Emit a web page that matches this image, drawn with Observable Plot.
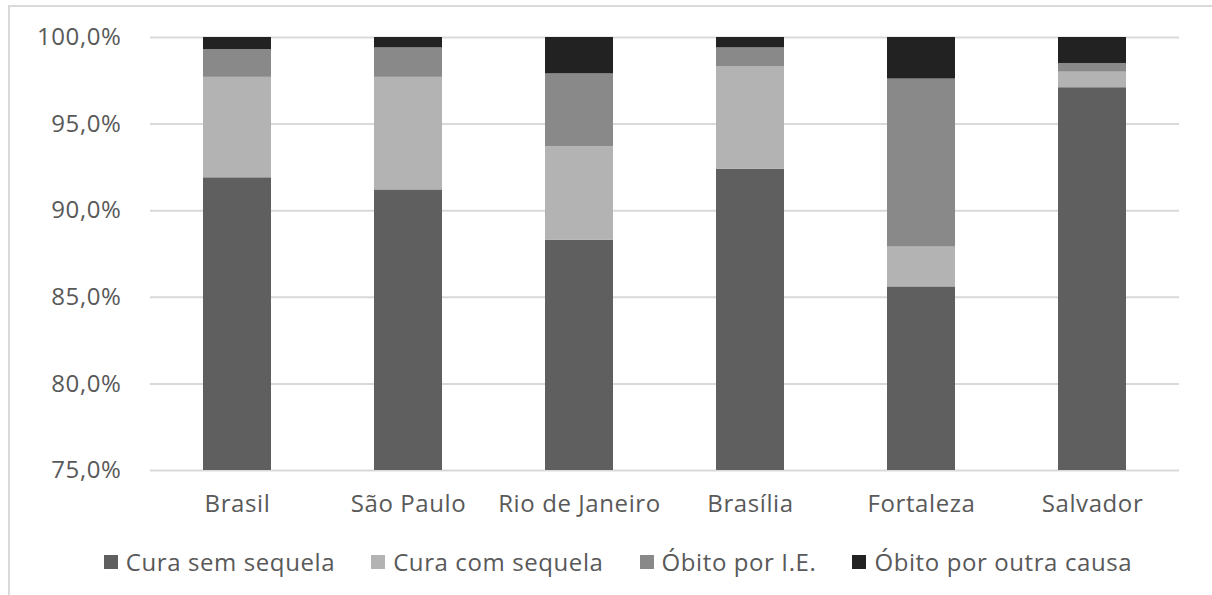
<!DOCTYPE html>
<html>
<head>
<meta charset="utf-8">
<script src="https://cdn.jsdelivr.net/npm/d3@7"></script>
<script src="https://cdn.jsdelivr.net/npm/@observablehq/plot@0.6"></script>
<style>
  html, body { margin: 0; padding: 0; background: #fff; width: 1212px; height: 595px; overflow: hidden; }
  #frame { position: absolute; left: 8px; top: 5px; width: 1220px; height: 620px; border-left: 2px solid #d9d9d9; border-top: 2px solid #d9d9d9; box-sizing: border-box; }
  #chart { position: absolute; left: 0; top: 0; }
  #legend { position: absolute; left: 8px; width: 1220px; top: 545px; display: flex; justify-content: center; gap: 36px;
            font-family: "Open Sans", sans-serif; font-size: 24px; color: #595959; letter-spacing: 0.6px; }
  #legend .item { display: flex; align-items: center; white-space: nowrap; }
  #legend .sw { width: 14px; height: 14px; margin-right: 8px; display: inline-block; }
</style>
</head>
<body>
<div id="frame"></div>
<div id="chart"></div>
<div id="legend"></div>
<script>
const cities = ["Brasil", "São Paulo", "Rio de Janeiro", "Brasília", "Fortaleza", "Salvador"];
const seriesNames = ["Cura sem sequela", "Cura com sequela", "Óbito por I.E.", "Óbito por outra causa"];
const curaSemSequela = [91.9, 91.2, 88.3, 92.4, 85.6, 97.1];
const curaComSequela = [5.8, 6.5, 5.4, 5.9, 2.3, 0.9];
const obitoIE = [1.6, 1.7, 4.2, 1.1, 9.7, 0.5];
const obitoOutra = [0.7, 0.6, 2.1, 0.6, 2.4, 1.5];
const yTicks = [75, 80, 85, 90, 95, 100];
const seriesColors = ["#5f5f5f", "#b3b3b3", "#898989", "#222222"];

const seriesValues = [curaSemSequela, curaComSequela, obitoIE, obitoOutra];
const data = [];
seriesNames.forEach((s, si) => {
  cities.forEach((c, ci) => data.push({city: c, series: s, value: seriesValues[si][ci]}));
});

const fmt = d => d.toFixed(1).replace(".", ",") + "%";

const chart = Plot.plot({
  width: 1212,
  height: 530,
  marginLeft: 150,
  marginRight: 33,
  marginTop: 37,
  marginBottom: 60,
  style: { fontFamily: "'Open Sans', sans-serif", fontSize: "24px", color: "#595959", background: "transparent" },
  x: { domain: cities, paddingInner: 0.6, paddingOuter: 0.3, label: null, tickSize: 0, tickPadding: 24 },
  y: { domain: [75, 100], ticks: yTicks, tickFormat: fmt, label: null, tickSize: 0, tickPadding: 29 },
  color: { domain: seriesNames, range: seriesColors },
  marks: [
    Plot.gridY(yTicks, { stroke: "#d9d9d9", strokeWidth: 2, strokeOpacity: 1 }),
    Plot.barY(data, { x: "city", y: "value", fill: "series", order: seriesNames, clip: true, inset: 0 }),
  ]
});
chart.querySelectorAll("text").forEach(t => t.setAttribute("letter-spacing", "0.6"));
document.getElementById("chart").appendChild(chart);

const color = chart.scale("color");
const legend = d3.select("#legend");
seriesNames.forEach(s => {
  const item = legend.append("span").attr("class", "item");
  item.append("span").attr("class", "sw").style("background", color.apply(s));
  item.append("span").text(s);
});
</script>
</body>
</html>
